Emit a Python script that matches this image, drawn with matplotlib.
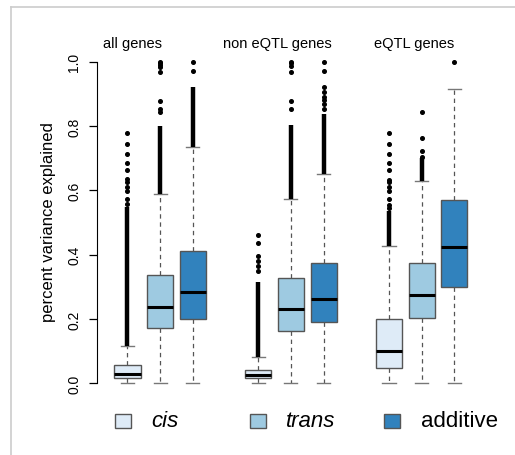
import numpy as np
import matplotlib.pyplot as plt
from matplotlib.lines import Line2D
from matplotlib.patches import Rectangle

plt.rcParams['font.family'] = ['Liberation Sans', 'DejaVu Sans']

# groupes de genes et composantes
groupes = ['all genes', 'non eQTL genes', 'eQTL genes']
composantes = ['cis', 'trans', 'additive']
couleurs = ['#deebf7', '#9ecae1', '#3182bd']

# statistiques des boites (ordre : cis, trans, additive pour chaque groupe)
moustache_bas = [0.0, 0.0, 0.0, 0.0, 0.0, 0.0, 0.0, 0.0, 0.0]
q1 = [0.016, 0.171, 0.200, 0.016, 0.164, 0.190, 0.049, 0.203, 0.299]
mediane = [0.029, 0.237, 0.285, 0.026, 0.230, 0.263, 0.100, 0.274, 0.424]
q3 = [0.057, 0.338, 0.412, 0.042, 0.328, 0.375, 0.200, 0.375, 0.569]
moustache_haut = [0.117, 0.588, 0.734, 0.081, 0.574, 0.651, 0.426, 0.630, 0.916]

# zones ou les points aberrants se chevauchent (colonne continue)
haut_zone_dense = [0.547, 0.801, 0.921, 0.314, 0.804, 0.838, 0.537, 0.700, 0.916]

# points aberrants isoles
points_isoles = [
    [0.558, 0.573, 0.599, 0.612, 0.625, 0.635, 0.664, 0.685, 0.713, 0.745, 0.779],
    [0.843, 0.853, 0.879, 0.967, 0.985, 0.990, 0.995, 1.0],
    [0.972, 1.0],
    [0.350, 0.366, 0.381, 0.395, 0.435, 0.461],
    [0.853, 0.879, 0.967, 0.988, 0.995, 1.0],
    [0.853, 0.870, 0.880, 0.890, 0.905, 0.920, 0.972, 1.0],
    [0.545, 0.556, 0.573, 0.597, 0.612, 0.625, 0.633, 0.664, 0.685, 0.713, 0.745, 0.779],
    [0.705, 0.723, 0.763, 0.843],
    [1.0],
]

fig = plt.figure(figsize=(5.15, 4.56), dpi=100)
ax = fig.add_axes([0.1878, 0.1289, 0.7542, 0.7617])

positions = []
for g in range(len(groupes)):
    for c in range(len(composantes)):
        positions.append(g * 4 + c + 1)

stats = []
for i in range(len(positions)):
    stats.append({
        'whislo': moustache_bas[i], 'q1': q1[i], 'med': mediane[i],
        'q3': q3[i], 'whishi': moustache_haut[i], 'fliers': points_isoles[i],
    })

gris = '#555555'
# colonnes denses d'outliers
for i, x in enumerate(positions):
    if haut_zone_dense[i] > moustache_haut[i]:
        ax.vlines(x, moustache_haut[i], haut_zone_dense[i], color='black', lw=3.2, zorder=3)

bp = ax.bxp(stats, positions=positions, widths=0.8, capwidths=0.4, patch_artist=True,
            boxprops=dict(edgecolor=gris, linewidth=1.0),
            medianprops=dict(color='black', linewidth=2.2),
            whiskerprops=dict(color=gris, linewidth=0.9, linestyle=(0, (3.5, 3))),
            capprops=dict(color='#777777', linewidth=1.0),
            flierprops=dict(marker='o', markerfacecolor='black', markeredgecolor='black',
                            markersize=2.6, linestyle='none'))
for i, boite in enumerate(bp['boxes']):
    boite.set_facecolor(couleurs[i % 3])

ax.set_xlim(0.06, 11.94)
ax.set_ylim(-0.04, 1.04)
for s in ['top', 'right', 'bottom']:
    ax.spines[s].set_visible(False)
ax.spines['left'].set_bounds(0, 1)
ax.set_xticks([])
ax.set_yticks([0.0, 0.2, 0.4, 0.6, 0.8, 1.0])
ax.set_yticklabels(['0.0', '0.2', '0.4', '0.6', '0.8', '1.0'], rotation=90, va='center')
ax.tick_params(axis='y', length=5.8, width=0.9, pad=5.5, labelsize=10)

fig.text(49 / 515, 1 - 222.5 / 456, 'percent variance explained', rotation=90,
         ha='center', va='center', fontsize=12)

# titres des groupes
centres_titres = [1.16, 5.60, 9.77]
for g, titre in enumerate(groupes):
    ax.text(centres_titres[g], 1.046, titre, ha='center', va='baseline', fontsize=10.5,
            clip_on=False)

# legende
for k, nom in enumerate(composantes):
    x0 = (115 + k * 134.5) / 515
    fig.add_artist(Rectangle((x0, 1 - 429 / 456), 16 / 515, 14 / 456, transform=fig.transFigure,
                             facecolor=couleurs[k], edgecolor=gris, linewidth=1.0))
    style = 'italic' if nom != 'additive' else 'normal'
    fig.text(x0 + 36.7 / 515, 1 - 422 / 456, nom, ha='left', va='center', fontsize=16,
             style=style)

# cadre gris clair
fig.add_artist(Line2D([11 / 515, 1], [1 - 8 / 456, 1 - 8 / 456], transform=fig.transFigure,
                      color='#cccccc', lw=1.2))
fig.add_artist(Line2D([11 / 515, 11 / 515], [0, 1 - 8 / 456], transform=fig.transFigure,
                      color='#cccccc', lw=1.2))

fig.savefig('out.png', dpi=100)
